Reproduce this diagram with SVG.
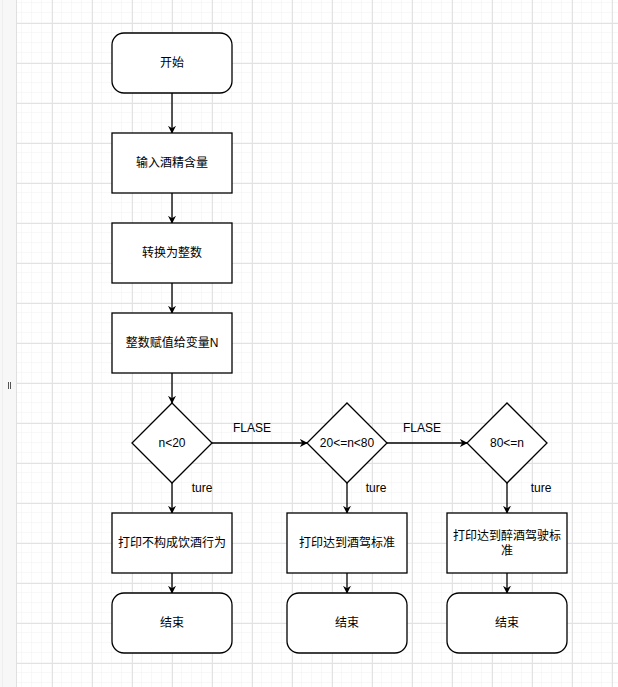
<svg xmlns="http://www.w3.org/2000/svg" width="618" height="687" viewBox="0 0 618 687">
<defs>
<pattern id="minor" x="2" y="3" width="10" height="10" patternUnits="userSpaceOnUse"><path d="M10 0V10M0 10H10" fill="none" stroke="#f0f0f0" stroke-width="1"/></pattern>
<pattern id="major" x="12" y="23" width="40" height="40" patternUnits="userSpaceOnUse"><path d="M0.5 0V40M0 0.5H40" fill="none" stroke="#e2e2e2" stroke-width="1"/></pattern>
<marker id="arr" viewBox="0 0 10 10" refX="9" refY="5" markerWidth="8" markerHeight="8" markerUnits="userSpaceOnUse" orient="auto"><path d="M0 0L10 5L0 10L3 5Z" fill="#000"/></marker>
<style>
.n{fill:#fff;stroke:#000;stroke-width:1.3}
.t{font-family:"Liberation Sans","Noto Sans CJK SC",sans-serif;font-size:12px;fill:#000;text-anchor:middle;dominant-baseline:central}
.c{fill:none;stroke:#000;stroke-width:1.3;marker-end:url(#arr)}
</style>
</defs>
<rect width="618" height="687" fill="#fff"/>
<rect x="16" width="602" height="687" fill="url(#minor)"/>
<rect x="16" width="602" height="687" fill="url(#major)"/>
<rect x="0" y="0" width="16" height="687" fill="#f7f7f7"/>
<line x1="16.5" y1="0" x2="16.5" y2="687" stroke="#e0e0e0"/>
<line x1="2.5" y1="0" x2="2.5" y2="687" stroke="#eeeeee"/>
<rect x="8" y="382" width="1" height="7" fill="#555"/>
<rect x="10" y="382" width="1" height="7" fill="#555"/>

<g id="connectors">
<path class="c" d="M172 93V133"/>
<path class="c" d="M172 193V223"/>
<path class="c" d="M172 283V313"/>
<path class="c" d="M172 373V403"/>
<path class="c" d="M212 443H307"/>
<path class="c" d="M387 443H467"/>
<path class="c" d="M172 483V513"/>
<path class="c" d="M347 483V513"/>
<path class="c" d="M507 483V513"/>
<path class="c" d="M172 573V593"/>
<path class="c" d="M347 573V593"/>
<path class="c" d="M507 573V593"/>
<text class="t" x="252" y="428">FLASE</text>
<text class="t" x="422" y="428">FLASE</text>
<text class="t" x="202" y="488">ture</text>
<text class="t" x="376" y="488">ture</text>
<text class="t" x="541" y="488">ture</text>
</g>

<g id="start"><rect class="n" x="112" y="33" width="120" height="60" rx="12"/><text class="t" x="172" y="63">开始</text></g>
<g id="input"><rect class="n" x="112" y="133" width="120" height="60"/><text class="t" x="172" y="163">输入酒精含量</text></g>
<g id="convert"><rect class="n" x="112" y="223" width="120" height="60"/><text class="t" x="172" y="253">转换为整数</text></g>
<g id="assign"><rect class="n" x="112" y="313" width="120" height="60"/><text class="t" x="172" y="343">整数赋值给变量N</text></g>
<g id="d1"><path class="n" d="M172 403L212 443L172 483L132 443Z"/><text class="t" x="172" y="443">n&lt;20</text></g>
<g id="d2"><path class="n" d="M347 403L387 443L347 483L307 443Z"/><text class="t" x="347" y="443">20&lt;=n&lt;80</text></g>
<g id="d3"><path class="n" d="M507 403L547 443L507 483L467 443Z"/><text class="t" x="507" y="443">80&lt;=n</text></g>
<g id="p1"><rect class="n" x="112" y="513" width="120" height="60"/><text class="t" x="172" y="543">打印不构成饮酒行为</text></g>
<g id="p2"><rect class="n" x="287" y="513" width="120" height="60"/><text class="t" x="347" y="543">打印达到酒驾标准</text></g>
<g id="p3"><rect class="n" x="447" y="513" width="120" height="60"/><text class="t" x="507" y="536">打印达到醉酒驾驶标</text><text class="t" x="507" y="551">准</text></g>
<g id="e1"><rect class="n" x="112" y="593" width="120" height="60" rx="12"/><text class="t" x="172" y="623">结束</text></g>
<g id="e2"><rect class="n" x="287" y="593" width="120" height="60" rx="12"/><text class="t" x="347" y="623">结束</text></g>
<g id="e3"><rect class="n" x="447" y="593" width="120" height="60" rx="12"/><text class="t" x="507" y="623">结束</text></g>
</svg>
